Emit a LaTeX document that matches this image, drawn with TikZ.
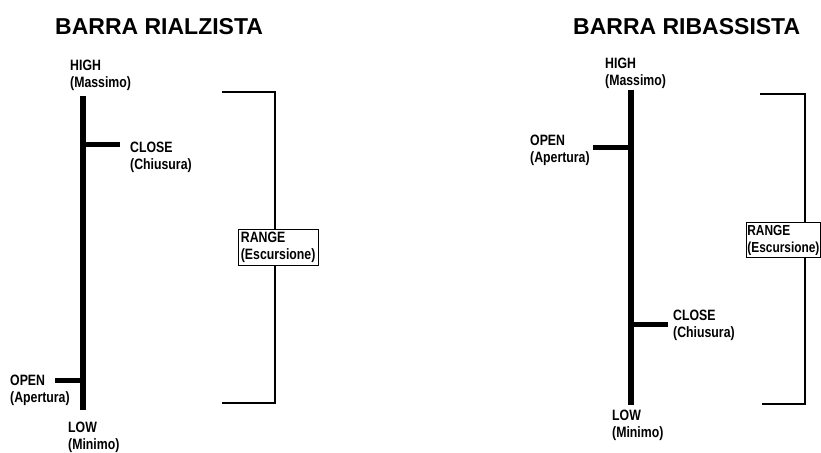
\documentclass[tikz,border=0pt]{standalone}
\usepackage{fontspec}
\newfontfamily\lblfont[FakeStretch=0.82]{Liberation Sans}
\newfontfamily\ttlfont{Liberation Sans}
\usetikzlibrary{positioning}

\begin{document}
\begin{tikzpicture}[x=1pt, y=-1pt,
  lbl/.style={anchor=north west, inner sep=0pt, align=left,
    font=\lblfont\bfseries\fontsize{15}{17}\selectfont},
  ttl/.style={anchor=north west, inner sep=0pt,
    font=\ttlfont\bfseries\fontsize{23}{26}\selectfont},
  bar/.style={line width=5.5pt},
  tck/.style={line width=5pt},
  brk/.style={line width=1.3pt},
  rng/.style={lbl, draw, fill=white, line width=0.8pt, inner sep=2.5pt}]
  \useasboundingbox (0,0) rectangle (821,452);
  % bullish bar
  \node[ttl] (tA) at (55,18) {BARRA RIALZISTA};
  \coordinate (hiA) at (83,96);
  \coordinate (loA) at (83,410);
  \draw[bar] (hiA) -- (loA);
  \coordinate (clA) at (83,144.5);
  \coordinate (clAe) at (120,144.5);
  \coordinate (opA) at (83,380);
  \coordinate (opAe) at (55,380);
  \draw[tck] (clA) -- (clAe);
  \draw[tck] (opA) -- (opAe);
  \node[lbl] (hA) at (70,60) {HIGH\\(Massimo)};
  \node[lbl] (cA) at (130,142) {CLOSE\\(Chiusura)};
  \node[lbl] (oA) at (10,375) {OPEN\\(Apertura)};
  \node[lbl] (lA) at (68,422) {LOW\\(Minimo)};
  \coordinate (b1A) at (222,92);
  \coordinate (b2A) at (275,92);
  \coordinate (b3A) at (275,403);
  \coordinate (b4A) at (222,403);
  \draw[brk] (b1A) -- (b2A) -- (b3A) -- (b4A);
  \node[rng] (rA) at (238,229) {RANGE\\(Escursione)};
  % bearish bar
  \node[ttl] (tB) at (573,18) {BARRA RIBASSISTA};
  \coordinate (hiB) at (631,90);
  \coordinate (loB) at (631,405);
  \draw[bar] (hiB) -- (loB);
  \coordinate (opB) at (631,147);
  \coordinate (opBe) at (593,147);
  \coordinate (clB) at (631,324.5);
  \coordinate (clBe) at (668,324.5);
  \draw[tck] (opB) -- (opBe);
  \draw[tck] (clB) -- (clBe);
  \node[lbl] (hB) at (605,58) {HIGH\\(Massimo)};
  \node[lbl] (oB) at (530,135) {OPEN\\(Apertura)};
  \node[lbl] (cB) at (673,310) {CLOSE\\(Chiusura)};
  \node[lbl] (lB) at (612,410) {LOW\\(Minimo)};
  \coordinate (b1B) at (760,94);
  \coordinate (b2B) at (805,94);
  \coordinate (b3B) at (805,404);
  \coordinate (b4B) at (762,404);
  \draw[brk] (b1B) -- (b2B) -- (b3B) -- (b4B);
  \node[rng, inner xsep=1pt, font=\lblfont\bfseries\fontsize{14.5}{17}\selectfont]
    (rB) at (746,222) {RANGE\\(Escursione)};
\end{tikzpicture}
\end{document}
